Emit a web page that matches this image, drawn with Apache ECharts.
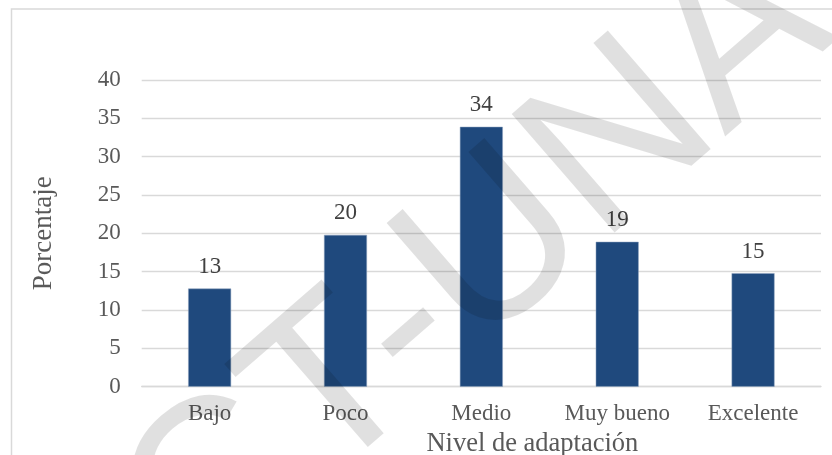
<!DOCTYPE html>
<html>
<head>
<meta charset="utf-8">
<script src="https://cdn.jsdelivr.net/npm/echarts@6/dist/echarts.min.js"></script>
<style>
html,body{margin:0;padding:0;background:#fff;}
#chart{width:832px;height:455px;}
</style>
</head>
<body>
<div id="chart"></div>
<script>
// datos
var categorias = ['Bajo', 'Poco', 'Medio', 'Muy bueno', 'Excelente'];
var porcentajes = [12.8, 19.8, 33.9, 18.9, 14.8];
var yMin = 0, yMax = 40, yPaso = 5;

var chart = echarts.init(document.getElementById('chart'));
var serif = '"Liberation Serif", "Times New Roman", serif';

var option = {
    animation:false,
    backgroundColor:'#fff',
    grid:{
        left:141.7,
        right:11,
        top:80,
        bottom:68.3,
        containLabel:false,
        outerBoundsMode:'none'
    },
    xAxis:{
        type:'category',
        data:categorias,
        name:'Nivel de adaptación',
        nameLocation:'middle',
        nameGap:44,
        nameTextStyle:{
            color:'#595959',
            fontFamily:serif,
            fontSize:26.5,
            padding:[0,0,0,102]
        },
        axisLine:{
            lineStyle:{color:'#d9d9d9',width:1.3}
        },
        axisTick:{show:false},
        axisLabel:{
            interval:0,
            margin:16,
            color:'#595959',
            fontFamily:serif,
            fontSize:23
        }
    },
    yAxis:{
        type:'value',
        min:yMin,
        max:yMax,
        interval:yPaso,
        name:'Porcentaje',
        nameLocation:'middle',
        nameGap:84,
        nameTextStyle:{
            color:'#595959',
            fontFamily:serif,
            fontSize:27
        },
        axisLine:{show:false},
        axisTick:{show:false},
        axisLabel:{
            margin:21,
            color:'#595959',
            fontFamily:serif,
            fontSize:23
        },
        splitLine:{
            lineStyle:{color:'#d9d9d9',width:1.3}
        }
    },
    series:[{
        type:'bar',
        data:porcentajes,
        barWidth:'31.6%',
        itemStyle:{
            color:'#1f497d',
            borderColor:'#8ea3bf',
            borderWidth:0.5
        },
        label:{
            show:true,
            position:'top',
            distance:10,
            color:'#404040',
            fontFamily:serif,
            fontSize:23,
            formatter:function(p){
                return Math.round(p.value);
            }
        }
    }],
    graphic:[
        // marco del grafico
        {
            type:'rect',
            left:9,
            top:6.5,
            shape:{width:900,height:500},
            style:{fill:'none',stroke:'#d9d9d9',lineWidth:1.5},
            silent:true
        },
        // marca de agua
        {
            type:'text',
            x:478,
            y:268,
            rotation:41*Math.PI/180,
            z:100,
            silent:true,
            style:{
                text:'CT-UNA',
                font:'228px "Liberation Sans", Arial, sans-serif',
                fill:'rgba(0,0,0,0.12)',
                textAlign:'center',
                textVerticalAlign:'middle'
            }
        }
    ]
};

chart.setOption(option);
</script>
</body>
</html>
